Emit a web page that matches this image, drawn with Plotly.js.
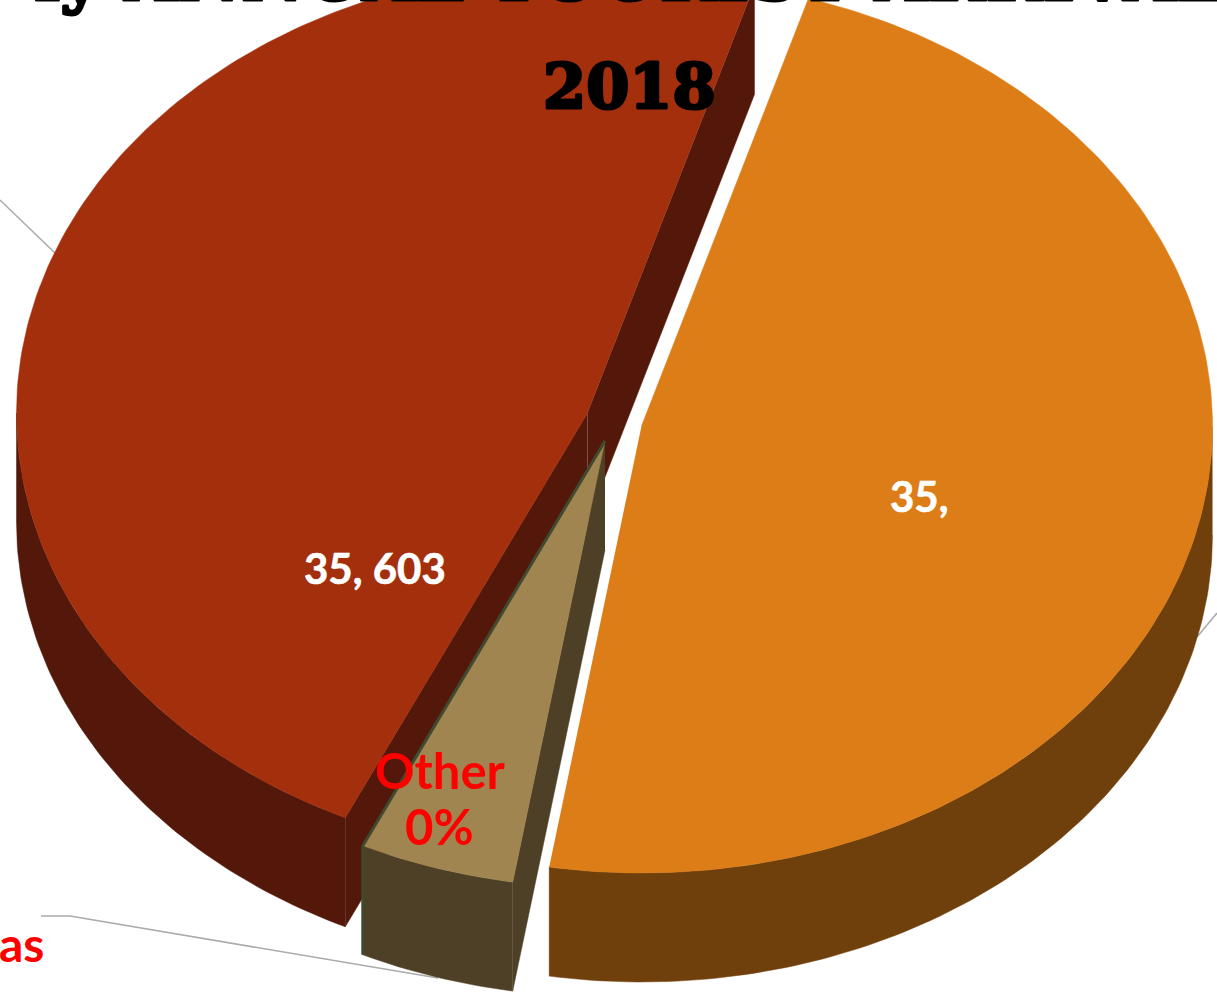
<!DOCTYPE html>
<html><head><meta charset="utf-8">
<script src="https://cdn.plot.ly/plotly-3.0.0.min.js"></script>
<style>html,body{margin:0;padding:0;background:#fff;overflow:hidden}
#c{width:1217px;height:995px}
</style></head><body><div id="c"></div>
<script>
// Data
const values = [35603, 3272, 35686];
const valueLabels = ["35, 603", "35,"];
const otherLabel = ["Other", "0%"];
const cutLabel = "as";
const titleLines = ["ly ANNUAL TOURIST ARRIVALS", "2018"];

// Styles and scene geometry (pixel-valued axes)
const topColors = ["#A32F0D", "#A08550", "#DD7D18"];
const wallColors = ["#53180A", "#4E4027", "#6F3F0C"];
const centers = [[587.5,413],[605,441],[641.5,426]];
const RX = 571, RY = 447, DEPTH = 109, START = 17;
const total = values.reduce((a,b)=>a+b,0);

// angle in degrees, clockwise from top, projected on the tilted ellipse
function rim(c,t){const r=t*Math.PI/180;return [c[0]+RX*Math.sin(r), c[1]-RY*Math.cos(r)];}
function arc(c,a,b){const p=[];const n=Math.max(2,Math.ceil(Math.abs(b-a)));for(let i=0;i<=n;i++)p.push(rim(c,a+(b-a)*i/n));return p;}
function poly(pts,color){return {type:"scatter",mode:"lines",x:pts.map(p=>p[0]),y:pts.map(p=>p[1]),fill:"toself",fillcolor:color,line:{color:color,width:0.5},hoverinfo:"skip",showlegend:false};}
function down(p){return [p[0],p[1]+DEPTH];}
function stroke(pts,color,w){return {type:"scatter",mode:"lines",x:pts.map(p=>p[0]),y:pts.map(p=>p[1]),line:{color:color,width:w},hoverinfo:"skip",showlegend:false};}

const deg = values.map(v=>v/total*360);
const eu = [START, START+deg[2]];
const ot = [eu[1], eu[1]+deg[1]];
const am = [ot[1], ot[1]+deg[0]];

const traces = [];
traces.push(stroke([[0,200],[55,253]],"#ABABAB",1.6));
traces.push(stroke([[1197,637],[1217,613]],"#ABABAB",1.6));
traces.push(stroke([[41,916],[70,916],[438,978]],"#ABABAB",1.6));

const cA=centers[0], cO=centers[1], cE=centers[2];
const amWall = arc(cA,am[0],270);
traces.push(poly(amWall.concat(amWall.slice().reverse().map(down)),wallColors[0]));
const amS=rim(cA,am[0]), amE=rim(cA,am[1]);
traces.push(poly([cA,amS,down(amS),down(cA)],wallColors[0]));
traces.push(poly([cA,amE,down(amE),down(cA)],wallColors[0]));
traces.push(poly([cA].concat(arc(cA,am[0],am[1])),topColors[0]));

const euWall = arc(cE,90,eu[1]);
traces.push(poly(euWall.concat(euWall.slice().reverse().map(down)),wallColors[2]));
traces.push(poly([cE].concat(arc(cE,eu[0],eu[1])),topColors[2]));

const otS=rim(cO,ot[0]), otE=rim(cO,ot[1]);
const otWall = arc(cO,ot[0],ot[1]);
traces.push(poly([cO,otS,down(otS),down(cO)],wallColors[1]));
traces.push(poly(otWall.concat(otWall.slice().reverse().map(down)),wallColors[1]));
traces.push(poly([cO].concat(otWall),topColors[1]));
traces.push(stroke([cO,otE,down(otE)],"#3F4A30",3));

const body = "Lato, 'Open Sans', sans-serif";
const serif = "'DejaVu Serif', serif";
function note(text,x,y,size,color,family,anchor){return {text:text,x:x,y:y,xref:"x",yref:"y",showarrow:false,xanchor:anchor||"center",yanchor:"middle",align:"center",font:{family:family,size:size,color:color,weight:700}};}
const topLine = note(titleLines[0],32,1+25/995,69,"#000",serif,"left");
topLine.yref="paper";
const annotations=[
 topLine,
 note(titleLines[1],629,86,62,"#000",serif),
 note(valueLabels[0],375,568,42,"#fff",body),
 note(valueLabels[1],919,496,42,"#fff",body),
 note(otherLabel[0],440,770,49,"#FF0000",body),
 note(otherLabel[1],439,826,49,"#FF0000",body),
 note(cutLabel,46,943,48,"#FF0000",body,"right")
];

const layout={width:1217,height:995,margin:{l:0,r:0,t:0,b:0},paper_bgcolor:"#fff",plot_bgcolor:"#fff",showlegend:false,
 xaxis:{range:[0,1217],visible:false,fixedrange:true},
 yaxis:{range:[995,0],visible:false,fixedrange:true},
 annotations:annotations};
Plotly.newPlot("c",traces,layout,{displayModeBar:false,staticPlot:true}).then(()=>{
  document.querySelectorAll(".annotation-text").forEach(t=>{
    if(titleLines.includes(t.textContent)){t.style.stroke="#000";t.style.strokeWidth="3px";t.style.strokeLinejoin="round";}
    else if(valueLabels.includes(t.textContent)){t.style.stroke="#fff";t.style.strokeWidth="0.6px";}
  });
});
</script></body></html>
